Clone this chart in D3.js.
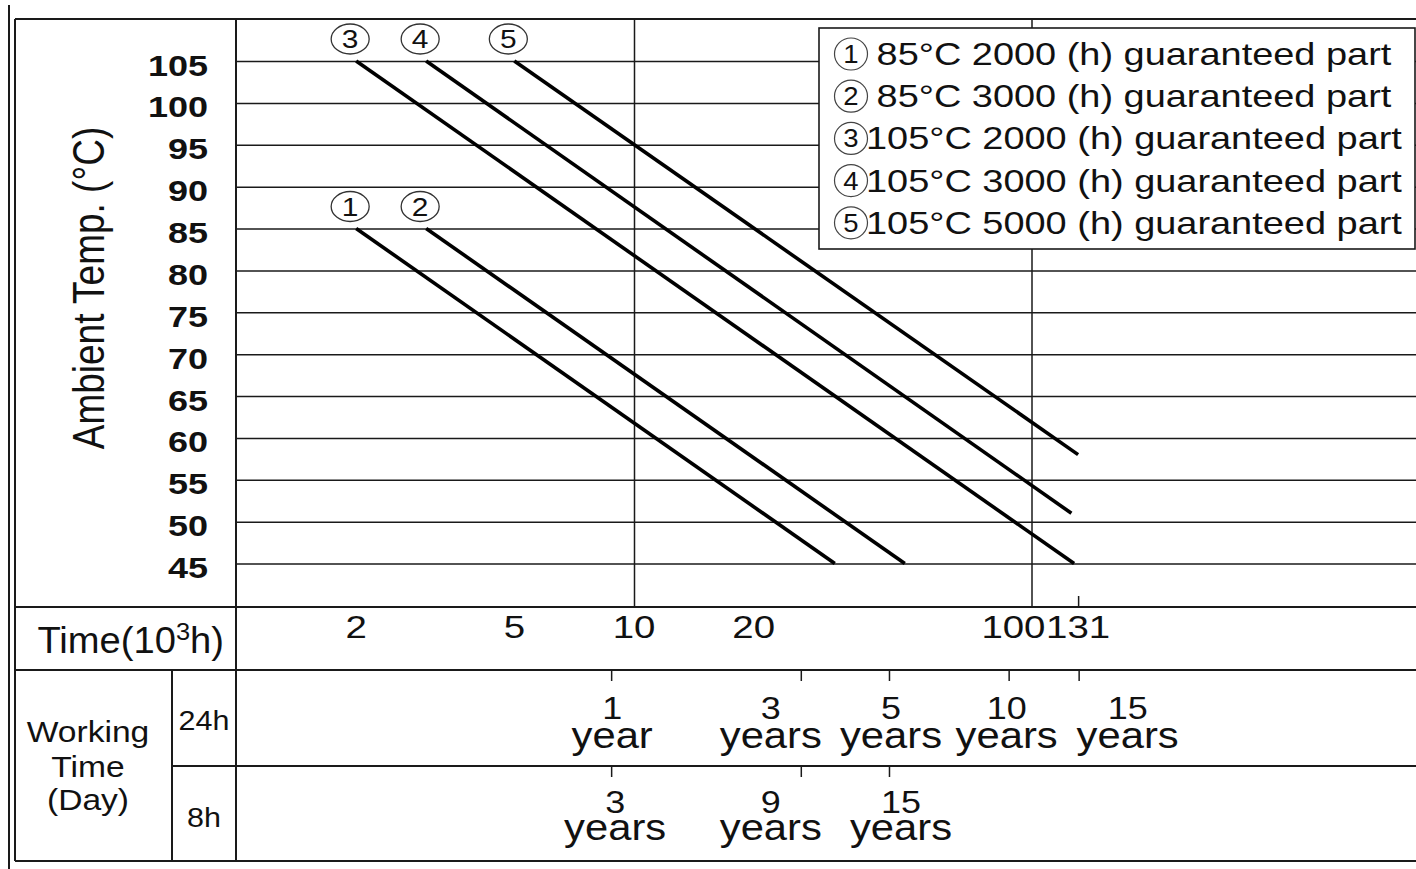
<!DOCTYPE html>
<html>
<head>
<meta charset="utf-8">
<script src="https://cdn.jsdelivr.net/npm/d3@7"></script>
<style>
  body { margin: 0; background: #fff; }
  svg { display: block; }
  text { font-family: "Liberation Sans", Arial, Helvetica, sans-serif; fill: #111; }
</style>
</head>
<body>
<svg id="chart" width="1416" height="869"></svg>
<script>
// ---- data ----------------------------------------------------------
const tempTicks = [45, 50, 55, 60, 65, 70, 75, 80, 85, 90, 95, 100, 105];
const timeTicks = [2, 5, 10, 20, 100, 131];          // thousand hours
const timeGrid = [10, 100];
const timeEndTick = [131];

const seriesIds = [1, 2, 3, 4, 5];
const ratedTemp = [85, 85, 105, 105, 105];            // °C
const ratedHours = [2000, 3000, 2000, 3000, 5000];    // h
// life lines: [time (10^3 h), ambient temp (°C)]
const series1 = [[2, 85], [32, 45]];
const series2 = [[3, 85], [48, 45]];
const series3 = [[2, 105], [128, 45]];
const series4 = [[3, 105], [126, 51]];
const series5 = [[5, 105], [131, 58]];
const seriesLines = [series1, series2, series3, series4, series5];

const years24h = [1, 3, 5, 10, 15];
const years8h = [3, 9, 15];
const daysPerYear = 365;

// ---- layout --------------------------------------------------------
const W = 1416;
const frameX = 9, frameLeft = 15, frameTop = 19, frameBottom = 861;
const plotLeft = 236, plotBottom = 607, timeBottom = 670, rowSplit = 766, subColX = 172;
const nudge24 = [1, -30, 2, -2, 49];
const nudge8 = [4, -30, 12];

const svg = d3.select("#chart");
svg.append("rect").attr("width", W).attr("height", 869).attr("fill", "#fff");

const x = d3.scaleLog().domain([10, 100]).range([634, 1031.5]);
const y = d3.scaleLinear().domain([45, 105]).range([563.5, 61]);

// stretched text helper
function label(g, px, py, str, o) {
  const t = g.append("text")
    .attr("transform", `translate(${px},${py}) scale(${o.sx || 1},1)` + (o.rotate ? ` rotate(${o.rotate})` : ""))
    .attr("text-anchor", o.anchor || "middle")
    .style("font-size", o.size + "px")
    .style("font-weight", o.weight || "normal");
  if (o.pre) t.style("white-space", "pre");
  t.text(str);
  return t;
}

const ink = "#1a1a1a";

// ---- gridlines -------------------------------------------------------
const gridY = svg.append("g")
  .attr("transform", `translate(${plotLeft},0)`)
  .call(d3.axisRight(y).tickValues(tempTicks).tickSize(W - plotLeft).tickFormat(""));
gridY.select(".domain").remove();
gridY.selectAll("line").attr("stroke", ink).attr("stroke-width", 1.5);

const gridX = svg.append("g")
  .attr("transform", `translate(0,${plotBottom})`)
  .call(d3.axisBottom(x).tickValues(timeGrid).tickSize(-(plotBottom - frameTop)).tickFormat(""));
gridX.select(".domain").remove();
gridX.selectAll("line").attr("stroke", ink).attr("stroke-width", 1.5);

const endTick = svg.append("g")
  .attr("transform", `translate(0,${plotBottom})`)
  .call(d3.axisBottom(x).tickValues(timeEndTick).tickSize(-11).tickFormat(""));
endTick.select(".domain").remove();
endTick.selectAll("line").attr("stroke", ink).attr("stroke-width", 1.5);

// ---- table frame ----------------------------------------------------
const frame = svg.append("g").attr("stroke", ink).attr("fill", "none").attr("stroke-width", 2);
function rule(x1, y1, x2, y2) {
  frame.append("line").attr("x1", x1).attr("y1", y1).attr("x2", x2).attr("y2", y2);
}
rule(frameX, 5, frameX, 869);
rule(frameLeft, frameTop, frameLeft, frameBottom);
rule(frameLeft, frameTop, W, frameTop);
rule(frameLeft, frameBottom, W, frameBottom);
rule(frameLeft, plotBottom, W, plotBottom);
rule(frameLeft, timeBottom, W, timeBottom);
rule(subColX, rowSplit, W, rowSplit);
rule(plotLeft, frameTop, plotLeft, frameBottom);
rule(subColX, timeBottom, subColX, frameBottom);

// ---- life lines -----------------------------------------------------
const line = d3.line().x(d => x(d[0])).y(d => y(d[1]));
svg.append("g").selectAll("path").data(seriesLines).join("path")
  .attr("d", line)
  .attr("fill", "none")
  .attr("stroke", "#000")
  .attr("stroke-width", 3.6)
  .attr("stroke-linecap", "butt");

// circled series numbers above each line start
const marks = svg.append("g");
seriesLines.forEach((s, i) => {
  const cx = x(s[0][0]) - 6, cy = y(s[0][1]) - 22;
  marks.append("ellipse").attr("cx", cx).attr("cy", cy).attr("rx", 19).attr("ry", 15)
    .attr("fill", "#fff").attr("stroke", "#333").attr("stroke-width", 1.3);
  label(marks, cx, cy + 9, String(seriesIds[i]), { size: 26, sx: 1.15 });
});

// ---- y axis labels --------------------------------------------------
const yl = svg.append("g");
tempTicks.forEach(t => label(yl, 208, y(t) + 14.5, String(t), { size: 30, sx: 1.2, anchor: "end", weight: "bold" }));
label(yl, 104, 288, "Ambient Temp. (°C)", { size: 37, sx: 1.22, rotate: -90 });

// ---- time row -------------------------------------------------------
const tl = svg.append("g");
const tt = label(tl, 224, 653, "", { size: 36, sx: 1.06, anchor: "end" });
tt.append("tspan").text("Time(10");
tt.append("tspan").attr("dy", -13).style("font-size", "24px").text("3");
tt.append("tspan").attr("dy", 13).text("h)");
timeTicks.forEach(t => {
  if (t === 100) label(tl, x(t) + 14, 638, String(t), { size: 31, sx: 1.24, anchor: "end" });
  else label(tl, x(t), 638, String(t), { size: 31, sx: 1.24 });
});

// ---- working time rows ----------------------------------------------
const wl = svg.append("g");
label(wl, 88, 742, "Working", { size: 30, sx: 1.12 });
label(wl, 88, 777, "Time", { size: 30, sx: 1.12 });
label(wl, 88, 810, "(Day)", { size: 30, sx: 1.12 });
label(wl, 204, 730, "24h", { size: 27, sx: 1.13 });
label(wl, 204, 827, "8h", { size: 27, sx: 1.13 });

function yearRow(years, hoursPerDay, rowTop, nudge, numBase, wordBase) {
  const vals = years.map(v => v * daysPerYear * hoursPerDay / 1000);
  const ax = svg.append("g")
    .attr("transform", `translate(0,${rowTop})`)
    .call(d3.axisBottom(x).tickValues(vals).tickSize(11).tickFormat(""));
  ax.select(".domain").remove();
  ax.selectAll("line").attr("stroke", ink).attr("stroke-width", 1.5);
  years.forEach((v, i) => {
    const cx = x(vals[i]) + nudge[i];
    const t = label(wl, cx, numBase, "", { size: 31, sx: 1.16 });
    t.append("tspan").attr("x", 0).attr("y", 0).text(String(v));
    t.append("tspan").attr("x", 0).attr("y", wordBase - numBase)
      .style("font-size", "36px").text(v === 1 ? "year" : "years");
  });
}
yearRow(years24h, 24, timeBottom, nudge24, 719, 748);
yearRow(years8h, 8, rowSplit, nudge8, 813, 840);

// ---- legend ---------------------------------------------------------
const lg = svg.append("g");
lg.append("rect").attr("x", 819).attr("y", 28).attr("width", 596).attr("height", 221)
  .attr("fill", "#fff").attr("stroke", ink).attr("stroke-width", 1.6);
seriesIds.forEach((id, i) => {
  const cy = 54 + i * 42.2;
  lg.append("ellipse").attr("cx", 851).attr("cy", cy).attr("rx", 16.5).attr("ry", 16)
    .attr("fill", "none").attr("stroke", "#444").attr("stroke-width", 1.2);
  label(lg, 851, cy + 9, String(id), { size: 25, sx: 1.1 });
  const txt = (ratedTemp[i] < 100 ? " " : "") + `${ratedTemp[i]}°C ${ratedHours[i]} (h) guaranteed part`;
  label(lg, 866, cy + 11, txt, { size: 31, sx: 1.224, anchor: "start", pre: true });
});
</script>
</body>
</html>
